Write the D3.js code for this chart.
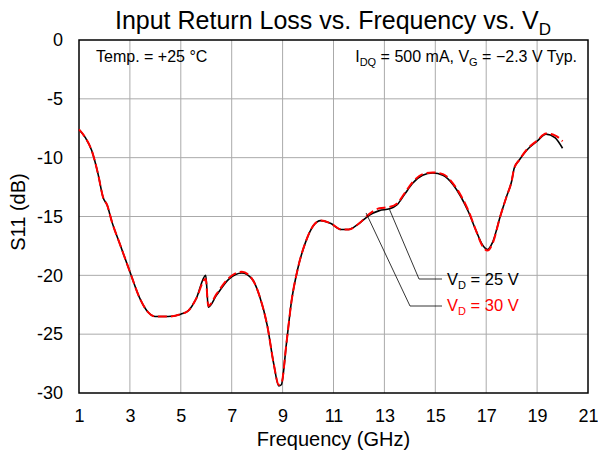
<!DOCTYPE html>
<html>
<head>
<meta charset="utf-8">
<script src="https://cdn.jsdelivr.net/npm/d3@7"></script>
<style>
  body { margin: 0; background: #fff; }
  text { font-family: "Liberation Sans", Arial, sans-serif; fill: #000; }
  .grid line { stroke: #aaa; stroke-width: 1; }
</style>
</head>
<body>
<svg id="chart" width="598" height="455"></svg>
<script>
// S11 vs frequency
const freq = [1.0, 1.25, 1.5, 1.75, 1.95, 2.1, 2.3, 2.6, 3.0, 3.4, 3.7, 4.0, 4.5, 5.0, 5.3, 5.6, 5.98,
    6.08, 6.4, 6.9, 7.4, 7.8, 8.1, 8.4, 8.65, 8.85, 8.95, 9.15, 9.35, 9.6, 9.9, 10.2, 10.5, 10.9,
    11.3, 11.6, 12.0, 12.4, 12.8, 13.2, 13.5, 13.8, 14.1, 14.5, 14.9, 15.3, 15.7, 16.0, 16.3, 16.6,
    16.85, 17.05, 17.25, 17.55, 17.8, 18.0, 18.1, 18.3, 18.6, 19.0, 19.35, 19.7, 20.0];
const s11Vd25 = [-7.6, -8.3, -9.4, -11.4, -13.4, -14.0, -15.5, -17.3, -19.7, -22.0, -23.1, -23.5, -23.5, -23.3, -23.0, -22.0, -20.0,
    -22.7, -21.7, -20.3, -19.8, -20.3, -21.8, -24.3, -27.5, -29.4, -29.3, -25.8, -22.2, -19.4, -17.2, -15.8, -15.35, -15.6,
    -16.1, -16.1, -15.6, -14.9, -14.5, -14.35, -14.0, -13.1, -12.2, -11.5, -11.3, -11.5, -12.3, -13.3, -14.6, -16.2,
    -17.4, -17.8, -17.2, -15.0, -13.3, -12.0, -10.9, -10.2, -9.35, -8.6, -8.0, -8.3, -9.2];
const s11Vd30 = [-7.6, -8.3, -9.4, -11.4, -13.4, -14.0, -15.5, -17.3, -19.7, -22.0, -23.1, -23.5, -23.5, -23.3, -23.0, -22.0, -20.3,
    -22.6, -21.6, -20.2, -19.7, -20.3, -21.8, -24.3, -27.5, -29.3, -29.2, -25.8, -22.2, -19.4, -17.2, -15.8, -15.35, -15.6,
    -16.1, -16.1, -15.6, -14.8, -14.3, -14.2, -13.9, -13.0, -12.1, -11.4, -11.25, -11.4, -12.2, -13.2, -14.5, -16.2,
    -17.5, -17.9, -17.3, -15.0, -13.3, -12.0, -10.9, -10.2, -9.3, -8.55, -7.95, -8.1, -8.6];

const xTicks = [1, 3, 5, 7, 9, 11, 13, 15, 17, 19, 21];
const yTicks = [0, -5, -10, -15, -20, -25, -30];

const svg = d3.select("#chart");
const margin = { left: 79, top: 40, right: 10, bottom: 62 };
const W = 598, H = 455;

const x = d3.scaleLinear().domain([1, 21]).range([margin.left, W - margin.right]);
const y = d3.scaleLinear().domain([-30, 0]).range([H - margin.bottom, margin.top]);

// grid
const grid = svg.append("g").attr("class", "grid");
grid.selectAll(".vx").data(xTicks.slice(1, -1)).enter().append("line")
    .attr("x1", d => x(d)).attr("x2", d => x(d))
    .attr("y1", y(0)).attr("y2", y(-30));
grid.selectAll(".hy").data(yTicks.slice(1, -1)).enter().append("line")
    .attr("x1", x(1)).attr("x2", x(21))
    .attr("y1", d => y(d)).attr("y2", d => y(d));

// axes: labels only, no tick marks
const xAxis = svg.append("g")
    .attr("transform", `translate(0, ${ y(-30) })`)
    .call(d3.axisBottom(x).tickValues(xTicks).tickSize(0).tickPadding(16).tickFormat(d3.format("d")));
xAxis.select(".domain").remove();
xAxis.selectAll("text").style("font-size", "18px");

const yAxis = svg.append("g")
    .attr("transform", `translate(${ x(1) }, 0)`)
    .call(d3.axisLeft(y).tickValues(yTicks).tickSize(0).tickPadding(16).tickFormat(d => String(d)));
yAxis.select(".domain").remove();
yAxis.selectAll("text").style("font-size", "18px");

// plot frame
svg.append("rect")
    .attr("x", x(1)).attr("y", y(0))
    .attr("width", x(21) - x(1)).attr("height", y(-30) - y(0))
    .attr("fill", "none").attr("stroke", "#000").attr("stroke-width", 1.5);

const line = values => d3.line()
    .x((d, i) => x(freq[i]))
    .y(d => y(d))
    .curve(d3.curveMonotoneX)(values);

svg.append("path").attr("d", line(s11Vd25))
    .attr("fill", "none").attr("stroke", "#000").attr("stroke-width", 1.6);
svg.append("path").attr("d", line(s11Vd30))
    .attr("fill", "none").attr("stroke", "#f00").attr("stroke-width", 2)
    .attr("stroke-dasharray", "9,4");

// leader lines for the series labels
const leader = (fx, fy, kneeX, ly) => `M${ x(fx) },${ y(fy) } L${ kneeX },${ ly } L442,${ ly }`;
svg.append("path").attr("d", leader(13.2, -14.4, 419, 279))
    .attr("fill", "none").attr("stroke", "#000").attr("stroke-width", 0.8);
svg.append("path").attr("d", leader(12.28, -14.7, 410, 306))
    .attr("fill", "none").attr("stroke", "#000").attr("stroke-width", 0.8);

const seriesLabel = (ty, color, value) => {
    const t = svg.append("text").attr("x", 447).attr("y", ty)
        .style("font-size", "16.5px").style("fill", color);
    t.append("tspan").text("V");
    t.append("tspan").attr("dy", 4).style("font-size", "11px").text("D");
    t.append("tspan").attr("dy", -4).text(` = ${ value } V`);
};
seriesLabel(285, "#000", 25);
seriesLabel(311, "#f00", 30);

// title
const title = svg.append("text").attr("x", 333).attr("y", 29)
    .attr("text-anchor", "middle").style("font-size", "25px");
title.append("tspan").text("Input Return Loss vs. Frequency vs. V");
title.append("tspan").attr("dy", 6).style("font-size", "17px").text("D");

// conditions
svg.append("text").attr("x", 96).attr("y", 62).style("font-size", "16px").text("Temp. = +25 \u00B0C");
const cond = svg.append("text").attr("x", 577).attr("y", 62)
    .attr("text-anchor", "end").style("font-size", "16px");
cond.append("tspan").text("I");
cond.append("tspan").attr("dy", 4).style("font-size", "11px").text("DQ");
cond.append("tspan").attr("dy", -4).text(" = 500 mA, V");
cond.append("tspan").attr("dy", 4).style("font-size", "11px").text("G");
cond.append("tspan").attr("dy", -4).text(" = \u22122.3 V Typ.");

// axis titles
svg.append("text").attr("x", x(11)).attr("y", 446)
    .attr("text-anchor", "middle").style("font-size", "20px").text("Frequency (GHz)");
svg.append("text").attr("transform", `translate(25, 212) rotate(-90)`)
    .attr("text-anchor", "middle").style("font-size", "20px").text("S11 (dB)");
</script>
</body>
</html>
